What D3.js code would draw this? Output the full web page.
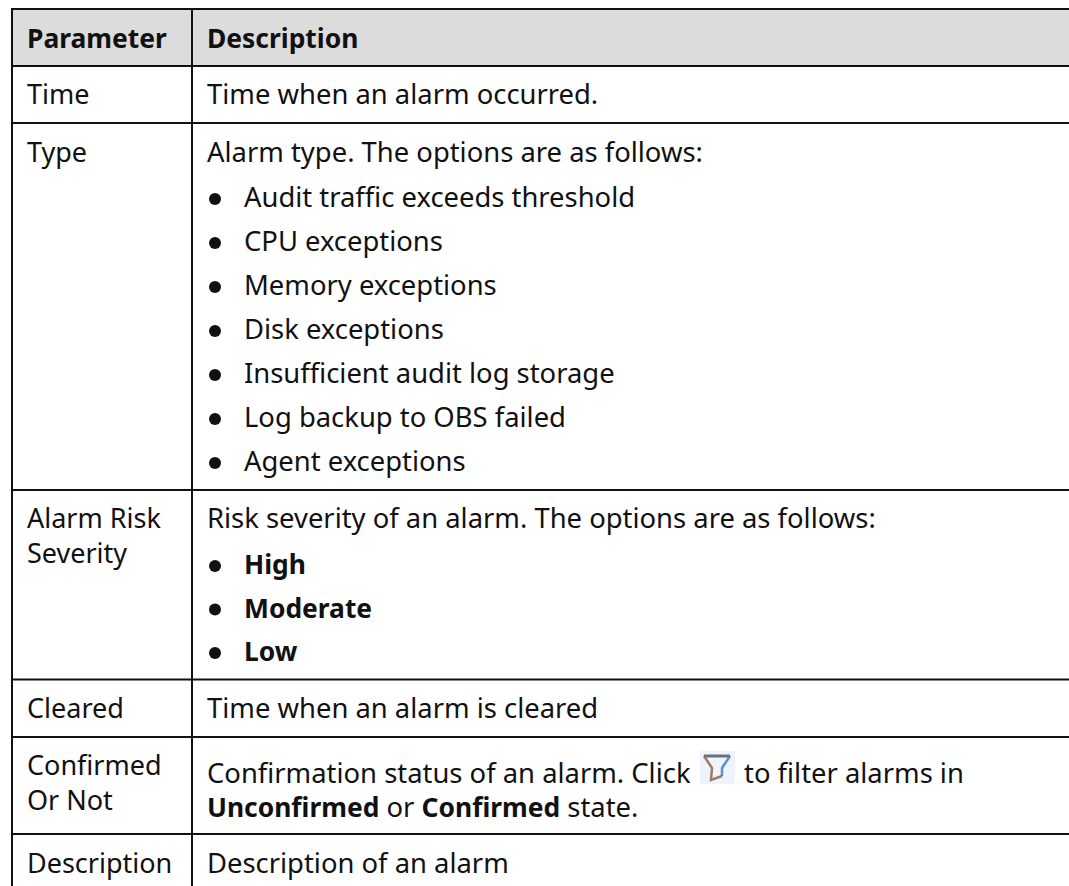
<!DOCTYPE html>
<html>
<head>
<meta charset="utf-8">
<script src="https://cdn.jsdelivr.net/npm/d3@7"></script>
<style>
html, body { margin: 0; padding: 0; background: #fff; }
text { font-family: "Noto Sans", "Open Sans", sans-serif; font-size: 27.4px; fill: #111; }
.strong { font-size: 26.4px; font-weight: 700; }
.name { font-size: 27px; }
</style>
</head>
<body>
<div id="chart"></div>
<script>
// table text
var headers = ["Parameter", "Description"]
var rowNames = ["Time", "Type", "Cleared", "Description"]
var severityName = ["Alarm Risk", "Severity"]
var confirmedName = ["Confirmed", "Or Not"]
var typeOptions = ["Audit traffic exceeds threshold", "CPU exceptions", "Memory exceptions", "Disk exceptions", "Insufficient audit log storage", "Log backup to OBS failed", "Agent exceptions"]
var severityOptions = ["High", "Moderate", "Low"]

var width = 1069
var height = 886
var col0 = 27 // text start, first column
var col1 = 207 // text start, second column
var colBullet = 244 // text start after a bullet

var svg = d3.select("#chart").append("svg")
    .attr("width", width)
    .attr("height", height)
    .style("display", "block")

// header band
svg.append("rect")
    .attr("x", 12)
    .attr("y", 9)
    .attr("width", width - 12)
    .attr("height", 57)
    .attr("fill", "#dcdcdc")

// grid lines, no right border in the original
svg.selectAll(".hline")
    .data([9, 66, 123, 490, 679.5, 737, 834])
    .enter().append("line")
    .attr("x1", 11)
    .attr("x2", width)
    .attr("y1", d => d)
    .attr("y2", d => d)
    .attr("stroke", "#111")
    .attr("stroke-width", 2)

svg.selectAll(".vline")
    .data([12, 192])
    .enter().append("line")
    .attr("x1", d => d)
    .attr("x2", d => d)
    .attr("y1", 8)
    .attr("y2", height)
    .attr("stroke", "#111")
    .attr("stroke-width", 2)

function label(x, y, str, cls) {
    return svg.append("text")
        .attr("x", x)
        .attr("y", y)
        .attr("class", cls || null)
        .text(str)
}

function bullet(y) {
    svg.append("circle")
        .attr("cx", 215)
        .attr("cy", y - 8)
        .attr("r", 6)
        .attr("fill", "#111")
}

// header
label(col0, 48, headers[0], "strong")
label(col1, 48, headers[1], "strong")

// first column
label(col0, 104, rowNames[0], "name")
label(col0, 162, rowNames[1], "name")
label(col0, 528, severityName[0], "name")
label(col0, 563, severityName[1], "name")
label(col0, 718, rowNames[2], "name")
label(col0, 775, confirmedName[0], "name")
label(col0, 810, confirmedName[1], "name")
label(col0, 873, rowNames[3], "name")

// second column
label(col1, 104, "Time when an alarm occurred.")
label(col1, 162, "Alarm type. The options are as follows:")

var typeScale = d3.scalePoint().domain(typeOptions).range([207, 471])
typeOptions.forEach(function(d) {
    bullet(typeScale(d))
    label(colBullet, typeScale(d), d)
})

label(col1, 528, "Risk severity of an alarm. The options are as follows:")
var severityScale = d3.scalePoint().domain(severityOptions).range([574, 661])
severityOptions.forEach(function(d) {
    bullet(severityScale(d))
    label(colBullet, severityScale(d), d, "strong")
})

label(col1, 718, "Time when an alarm is cleared")

label(col1, 783, "Confirmation status of an alarm. Click")
label(744, 783, "to filter alarms in")

// filter icon
svg.append("rect")
    .attr("x", 700)
    .attr("y", 751)
    .attr("width", 35)
    .attr("height", 33)
    .attr("fill", "#eef3fc")
svg.append("path")
    .attr("d", d3.line()([[730, 756], [722, 768], [722, 776]]))
    .attr("fill", "none")
    .attr("stroke", "#5f8fc8")
    .attr("stroke-width", 2.5)
svg.append("path")
    .attr("d", d3.line()([[704, 756], [712, 768], [711, 780], [722, 776]]))
    .attr("fill", "none")
    .attr("stroke", "#a07a62")
    .attr("stroke-width", 2.5)
svg.append("path")
    .attr("d", d3.line()([[704, 756], [730, 756]]))
    .attr("fill", "none")
    .attr("stroke", "#6b7080")
    .attr("stroke-width", 3)

var line2 = svg.append("text").attr("x", col1).attr("y", 817)
line2.append("tspan").attr("class", "strong").text("Unconfirmed")
line2.append("tspan").text(" or ")
line2.append("tspan").attr("class", "strong").text("Confirmed")
line2.append("tspan").text(" state.")

label(col1, 873, "Description of an alarm")
</script>
</body>
</html>
